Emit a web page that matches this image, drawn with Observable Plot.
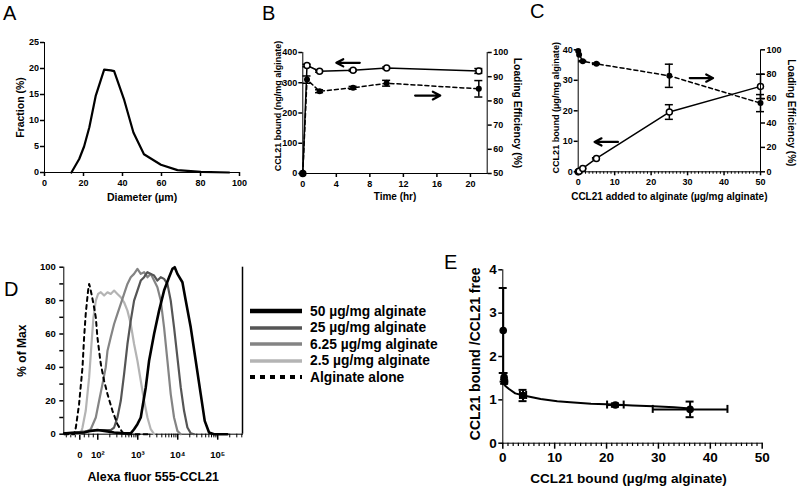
<!DOCTYPE html>
<html>
<head>
<meta charset="utf-8">
<script src="https://cdn.jsdelivr.net/npm/d3@7"></script>
<script src="https://cdn.jsdelivr.net/npm/@observablehq/plot@0.6"></script>
<style>
  html,body{margin:0;padding:0;background:#fff;}
  #fig{position:relative;width:800px;height:490px;overflow:hidden;background:#fff;font-family:"Liberation Sans",Arial,sans-serif;color:#000;}
  .panel{position:absolute;}
  .panel svg{position:absolute;left:0;top:0;overflow:visible;}
  .letter{position:absolute;font-size:20px;line-height:20px;font-weight:normal;}
  .panel svg [aria-label*="axis"] path,.panel svg [aria-label*="axis"] line{stroke-width:1.5px;}
  #legendD{position:absolute;left:250px;top:303px;font-weight:bold;font-size:13.8px;}
  #legendD .row{display:flex;align-items:center;height:16.5px;white-space:nowrap;}
  #legendD svg{margin-right:8px;flex:none;}
</style>
</head>
<body>
<div id="fig">
  <div class="panel" id="pA" style="left:0;top:0;width:260px;height:210px"></div>
  <div class="panel" id="pB" style="left:260px;top:0;width:270px;height:210px"></div>
  <div class="panel" id="pC" style="left:530px;top:0;width:270px;height:210px"></div>
  <div class="panel" id="pD" style="left:0;top:255px;width:250px;height:235px"></div>
  <div class="panel" id="pE" style="left:380px;top:250px;width:420px;height:240px"></div>
  <div id="legendD"></div>
  <div class="letter" style="left:3px;top:3px">A</div>
  <div class="letter" style="left:262px;top:3px">B</div>
  <div class="letter" style="left:530px;top:1px">C</div>
  <div class="letter" style="left:4px;top:279px">D</div>
  <div class="letter" style="left:444px;top:252px">E</div>
</div>
<script>
// ================= DATA =================
// Panel A: size distribution
const diameterUm  = [13.8, 17.8, 20.3, 23.0, 26.3, 30.6, 34.0, 35.7, 40.9, 45.6, 51.0, 59.7, 68.2, 80.2, 94.7];
const fractionPct = [0, 2.6, 5.0, 8.7, 14.8, 19.8, 19.65, 19.5, 13.9, 7.7, 3.5, 1.5, 0.45, 0.13, 0];
const ticksA_x = [0, 20, 40, 60, 80, 100];
const ticksA_y = [0, 5, 10, 15, 20, 25];

// Panel B: loading kinetics
const timeHr    = [0, 0.5, 2, 6, 10, 21];
const boundB    = [0, 357, 338, 341, 349, 339];
const boundBErr = [0, 4, 3, 3, 3, 8];
const effB      = [50, 88.8, 84, 85.4, 87.3, 85];
const effBErr   = [0, 1.5, 0.6, 0.6, 1.2, 3.4];
const ticksB_x  = [0, 4, 8, 12, 16, 20];
const ticksB_yL = [0, 100, 200, 300, 400];
const ticksB_yR = [50, 60, 70, 80, 90, 100];
const arrowB_left  = [{x1: 6.8, x2: 4.0, y: 366}];
const arrowB_right = [{x1: 13.4, x2: 16.4, y: 82.2}];

// Panel C: dose
const addedC    = [0, 0.25, 1.25, 5, 25, 50];
const boundC    = [0, 0.2, 1.1, 4.4, 19.6, 28.0];
const boundCErr = [0, 0, 0.1, 0.2, 2.4, 4.0];
const effC      = [99, 96, 90.7, 88.5, 78.7, 56.3];
const effCErr   = [0, 0, 0.5, 0.5, 9.5, 7.0];
const ticksC_x  = [0, 10, 20, 30, 40, 50];
const ticksC_yL = [0, 10, 20, 30, 40];
const ticksC_yR = [0, 20, 40, 60, 80, 100];
const arrowC_left  = [{x1: 10.9, x2: 4.5, y: 9.8}];
const arrowC_right = [{x1: 30.6, x2: 37.0, y: 76.8}];

// Panel D: flow histograms [fluorescence, % of max]
const histLabels = ["50 µg/mg alginate", "25 µg/mg alginate", "6.25 µg/mg alginate", "2.5 µg/mg alginate", "Alginate alone"];
const hist50 = [[-87,0.5],[24,1],[61,2],[98,2.5],[144,2],[256,1],[455,0.5],[668,0.5],[809,3],[981,6],[1189,10],[1585,28],[1920,44],[2560,60],[3415,74],[4550,86],[6070,94],[7360,99],[8410,100],[9810,96],[13090,91],[15850,80],[21130,64],[28180,44],[37580,24],[47320,8],[60700,1],[80900,0],[174600,0]];
const hist25 = [[-87,0.5],[24,1.5],[119,2.5],[211,2.5],[256,4],[310,10],[376,20],[455,36],[552,54],[668,68],[809,80],[981,86],[1189,92],[1440,94],[1746,97],[2113,96],[2560,95],[3100,92],[3760,94],[4550,93],[5520,90],[6680,80],[8090,64],[9810,46],[11890,28],[14390,14],[17460,4],[21130,0.6],[25590,0]];
const hist625 = [[-87,0.5],[6,1],[24,1],[61,3],[89,10],[108,20],[131,30],[158,40],[175,50],[211,58],[256,66],[310,72],[376,78],[455,84],[552,90],[668,94],[809,96],[981,99],[1189,96],[1440,97],[1746,94],[2113,96],[2560,92],[3100,88],[3760,80],[4550,64],[5520,44],[6680,24],[8090,10],[9810,2],[11890,0]];
const hist25b = [[-87,0],[6,0.5],[15,4],[33,14],[52,34],[65,54],[76,70],[89,80],[102,84],[119,85],[144,83],[175,85],[211,84],[256,86],[310,84],[376,82],[455,79],[552,74],[668,66],[809,54],[981,44],[1189,32],[1440,20],[1746,10],[2113,3],[2560,0]];
const histAlg = [[-87,0],[-31,0],[-22,4],[-4,18],[15,40],[24,58],[33,72],[46,86],[52,90],[57,88],[65,84],[76,78],[89,70],[98,58],[119,42],[144,32],[175,24],[233,14],[310,6],[414,1],[552,0],[1920,0]];
const dTickVals   = [0, 100, 1000, 10000, 100000];
const dTickLabels = ["0", "10²", "10³", "10⁴", "10⁵"];
const ticksD_y = [0, 10, 20, 30, 40, 50, 60, 70, 80, 90, 100];

// Panel E: Scatchard-type plot
const eBound   = [0.08, 0.25, 0.35, 3.9, 21.7, 36.1];
const eRatio   = [2.6, 1.52, 1.42, 1.1, 0.88, 0.78];
const eRatioErr= [0.98, 0.1, 0.05, 0.13, 0.04, 0.18];
const eBoundErr= [0, 0, 0, 0.6, 1.6, 7.2];
const fitBound = [0.1, 0.5, 1.2, 2.4, 4, 7.3, 10.5, 13, 17, 21.4, 25, 29, 33, 36.1];
const fitRatio = [1.42, 1.32, 1.25, 1.15, 1.1, 1.02, 0.97, 0.945, 0.91, 0.89, 0.87, 0.85, 0.83, 0.80];
const ticksE_x = [0, 10, 20, 30, 40, 50];
const ticksE_y = [0, 1, 2, 3, 4];

// ================= HELPERS =================
const FONT = "'Liberation Sans', Arial, Helvetica, sans-serif";
const fmtInt = d3.format("d");
function styl(fs){ return {background:"transparent", color:"#000", fontFamily:FONT, fontSize:fs+"px", fontWeight:"bold", overflow:"visible"}; }
function zip(xs, ys, es, xes){ return xs.map((x,i)=>({x, y:ys[i], e: es ? es[i] : 0, xe: xes ? xes[i] : 0})); }
function yErr(d, cap, sw){ const f = d.filter(p=>p.e>0); return [
  Plot.ruleX(f, {x:"x", y1:p=>p.y-p.e, y2:p=>p.y+p.e, strokeWidth:sw}),
  Plot.ruleY(f, {y:p=>p.y+p.e, x1:p=>p.x-cap, x2:p=>p.x+cap, strokeWidth:sw}),
  Plot.ruleY(f, {y:p=>p.y-p.e, x1:p=>p.x-cap, x2:p=>p.x+cap, strokeWidth:sw})]; }
function xErr(d, cap, sw){ const f = d.filter(p=>p.xe>0); return [
  Plot.ruleY(f, {y:"y", x1:p=>p.x-p.xe, x2:p=>p.x+p.xe, strokeWidth:sw}),
  Plot.ruleX(f, {x:p=>p.x-p.xe, y1:p=>p.y-cap, y2:p=>p.y+cap, strokeWidth:sw}),
  Plot.ruleX(f, {x:p=>p.x+p.xe, y1:p=>p.y-cap, y2:p=>p.y+cap, strokeWidth:sw})]; }
function title(t, o){ return Plot.text([t], {lineAnchor:"middle", textAnchor:"middle", fill:"#000", fontWeight:"bold", ...o}); }
function arrow(a, sw){ return Plot.arrow(a, {x1:"x1", x2:"x2", y1:"y", y2:"y", strokeWidth:sw, headLength:7, headAngle:55}); }
function put(id, el){ document.getElementById(id).appendChild(el); }

// ================= PANEL A =================
put("pA", Plot.plot({
  width:260, height:210, marginLeft:44, marginRight:21, marginTop:42, marginBottom:38, style:styl(9),
  x:{domain:[0,100], ticks:ticksA_x, tickFormat:fmtInt, tickSize:4, tickPadding:3, line:true, label:null},
  y:{domain:[0,25], ticks:ticksA_y, tickFormat:fmtInt, tickSize:4, tickPadding:1.5, line:true, label:null},
  marks:[
    Plot.line(zip(diameterUm, fractionPct), {x:"x", y:"y", strokeWidth:2.2, strokeLinejoin:"round"}),
    title("Diameter (µm)", {frameAnchor:"bottom", dy:25, fontSize:10.5}),
    title("Fraction (%)", {frameAnchor:"left", dx:-24, rotate:-90, fontSize:10.5})
  ]
}));

// ================= PANEL B =================
const mB = {width:270, height:210, marginLeft:42.3, marginRight:43.3, marginTop:52, marginBottom:37};
const dB1 = zip(timeHr, boundB, boundBErr), dB2 = zip(timeHr, effB, effBErr);
put("pB", Plot.plot({...mB, style:styl(9),
  x:{domain:[0,22], ticks:ticksB_x, tickFormat:fmtInt, tickSize:4, tickPadding:3, line:true, label:null},
  y:{domain:[0,400], ticks:ticksB_yL, tickFormat:fmtInt, tickSize:4, tickPadding:1.5, line:true, label:null},
  marks:[
    Plot.line(dB1, {x:"x", y:"y", strokeWidth:1.5}),
    yErr(dB1, 0.48, 1.5),
    Plot.dot(dB1, {x:"x", y:"y", r:3, fill:"white", stroke:"black", strokeWidth:1.5}),
    arrow(arrowB_left, 2.2),
    title("Time (hr)", {frameAnchor:"bottom", dy:23, fontSize:10}),
    title("CCL21 bound (ng/mg alginate)", {frameAnchor:"left", dx:-25, dy:-7, rotate:-90, fontSize:9})
  ]
}));
put("pB", Plot.plot({...mB, style:styl(9),
  x:{domain:[0,22], axis:null},
  y:{domain:[50,100], ticks:ticksB_yR, tickFormat:fmtInt, axis:"right", tickSize:4, tickPadding:2, line:true, label:null},
  marks:[
    Plot.line(dB2, {x:"x", y:"y", strokeWidth:1.5, strokeDasharray:"4,3"}),
    yErr(dB2, 0.48, 1.5),
    Plot.dot(dB2, {x:"x", y:"y", r:3, fill:"black"}),
    arrow(arrowB_right, 2.2),
    title("Loading Efficiency (%)", {frameAnchor:"right", dx:30, rotate:90, fontSize:10.3})
  ]
}));

// ================= PANEL C =================
const mC = {width:270, height:210, marginLeft:47.7, marginRight:40, marginTop:49.3, marginBottom:38.7};
const dC1 = zip(addedC, boundC, boundCErr), dC2 = zip(addedC, effC, effCErr);
const minorC = d3.range(1, 50).filter(v => v % 10 !== 0);
put("pC", Plot.plot({...mC, style:styl(9),
  x:{domain:[0,50], ticks:ticksC_x, tickFormat:fmtInt, tickSize:4, tickPadding:3, line:true, label:null},
  y:{domain:[0,40], ticks:ticksC_yL, tickFormat:fmtInt, tickSize:4, tickPadding:1.5, line:true, label:null},
  marks:[
    Plot.ruleX(minorC, {y1:0, y2:-0.8, strokeWidth:1}),
    Plot.line(dC1, {x:"x", y:"y", strokeWidth:1.5}),
    yErr(dC1, 1.1, 1.5),
    Plot.dot(dC1, {x:"x", y:"y", r:3, fill:"white", stroke:"black", strokeWidth:1.5}),
    arrow(arrowC_left, 2.2),
    title("CCL21 added to alginate (µg/mg alginate)", {frameAnchor:"bottom", dy:24.7, fontSize:10}),
    title("CCL21 bound (µg/mg alginate)", {frameAnchor:"left", dx:-21.7, dy:-3, rotate:-90, fontSize:9.1})
  ]
}));
put("pC", Plot.plot({...mC, style:styl(9),
  x:{domain:[0,50], axis:null},
  y:{domain:[0,100], ticks:ticksC_yR, tickFormat:fmtInt, axis:"right", tickSize:4, tickPadding:2, line:true, label:null},
  marks:[
    Plot.line(dC2, {x:"x", y:"y", strokeWidth:1.5, strokeDasharray:"4,3"}),
    yErr(dC2, 1.1, 1.5),
    Plot.dot(dC2, {x:"x", y:"y", r:3, fill:"black"}),
    arrow(arrowC_right, 2.2),
    title("Loading Efficiency (%)", {frameAnchor:"right", dx:31, dy:2, rotate:90, fontSize:10})
  ]
}));

// ================= PANEL D =================
// biexponential-like display transform: linear below 100, log above
const pos = v => v >= 100 ? Math.log10(v) - 2 + 0.45 : 0.45 * v / 100;
const dXDomain = [-0.4, 4.07];
const dTickPos = dTickVals.map(pos);
const dMinor = [-75, -50, -25, 25, 50, 75];
for (let e = 2; e <= 5; e++) for (let k = 2; k <= 9; k++) { const v = k * 10 ** e; if (pos(v) <= dXDomain[1]) dMinor.push(v); }
const histSeries = [
  {data: hist25b, color:"#b4b4b4", w:2.2, dash:null},
  {data: hist625, color:"#848484", w:2.2, dash:null},
  {data: hist25,  color:"#555555", w:2.2, dash:null},
  {data: hist50,  color:"#000000", w:2.6, dash:null},
  {data: histAlg, color:"#000000", w:2.0, dash:"4,4"}
];
put("pD", Plot.plot({
  width:250, height:235, marginLeft:63.3, marginRight:8, marginTop:11.7, marginBottom:56.3, style:styl(9.5),
  x:{domain:dXDomain, ticks:dTickPos, tickFormat:t => dTickLabels[dTickPos.findIndex(p => Math.abs(p - t) < 1e-9)], tickSize:6, tickPadding:11, line:true, label:null},
  y:{domain:[0,100], ticks:ticksD_y, tickFormat:d => d % 20 === 0 ? String(d) : "", tickSize:4, tickPadding:4, line:true, label:null},
  marks:[
    Plot.ruleX(dMinor, {x:pos, y1:0, y2:-2.2, strokeWidth:1}),
    Plot.ruleX([dXDomain[1]], {y1:0, y2:100, strokeWidth:1.5}),
    ...histSeries.map(s => Plot.line(s.data, {x:d => pos(d[0]), y:d => d[1], stroke:s.color, strokeWidth:s.w, strokeDasharray:s.dash, strokeLinejoin:"round"})),
    title("Alexa fluor 555-CCL21", {frameAnchor:"bottom", dy:43, fontSize:12.4}),
    title("% of Max", {frameAnchor:"left", dx:-41.6, rotate:-90, fontSize:12})
  ]
}));
// legend for D
const legendOrder = [3, 2, 1, 0, 4];
const leg = d3.select("#legendD");
histLabels.forEach((lab, i) => {
  const s = histSeries[legendOrder[i]];
  const row = leg.append("div").attr("class", "row");
  const sv = row.append("svg").attr("width", 52).attr("height", 10);
  sv.append("line").attr("x1", 0).attr("x2", 52).attr("y1", 5).attr("y2", 5)
    .attr("stroke", s.color).attr("stroke-width", s.dash ? 4 : (i === 0 ? 4.5 : 3.5))
    .attr("stroke-dasharray", s.dash ? "5,5" : null);
  row.append("span").text(lab);
});

// ================= PANEL E =================
const dE = zip(eBound, eRatio, eRatioErr, eBoundErr);
const minorE = d3.range(1, 50).filter(v => v % 10 !== 0);
put("pE", Plot.plot({
  width:420, height:240, marginLeft:122.3, marginRight:38.3, marginTop:19.3, marginBottom:47.3, style:styl(13.5),
  x:{domain:[0,50], ticks:ticksE_x, tickFormat:fmtInt, tickSize:6, tickPadding:3, line:true, label:null},
  y:{domain:[0,4], ticks:ticksE_y, tickFormat:fmtInt, tickSize:4, tickPadding:2, line:true, label:null},
  marks:[
    Plot.ruleX(minorE, {y1:0, y2:-0.075, strokeWidth:1.2}),
    Plot.line(zip(fitBound, fitRatio), {x:"x", y:"y", strokeWidth:2}),
    yErr(dE, 0.77, 2),
    xErr(dE, 0.092, 2),
    Plot.dot(dE, {x:"x", y:"y", r:3.8, fill:"black"}),
    title("CCL21 bound (µg/mg alginate)", {frameAnchor:"bottom", dy:35.6, dx:-4, fontSize:13.6}),
    title("CCL21 bound /CCL21 free", {frameAnchor:"left", dx:-27.3, dy:-2.7, rotate:-90, fontSize:14})
  ]
}));
</script>
</body>
</html>
